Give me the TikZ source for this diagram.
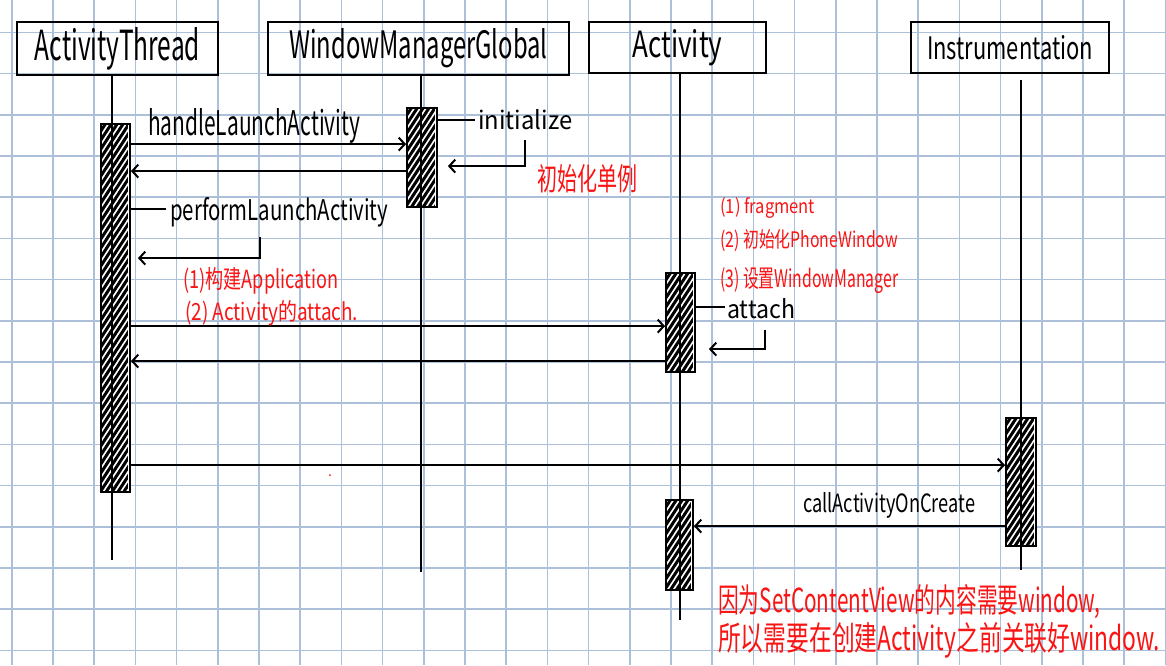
\documentclass[tikz,border=0pt]{standalone}
\usepackage{fontspec}
\usepackage{graphicx}
\setmainfont{Noto Sans CJK SC}
\usetikzlibrary{arrows.meta,calc}
\newcommand\hwtext[3]{\resizebox{#1pt}{#2pt}{#3}}
\definecolor{gridc}{RGB}{172,192,218}
\definecolor{inkred}{RGB}{250,20,20}
\newcommand\hatchin[1]{%
  \begin{scope}
    \clip ($(#1.north west)+(2,2)$) rectangle ($(#1.south east)+(-3,-2)$);
    \foreach \t in {0,9,...,430}{\draw[hatch] ($(#1.north west)+(0,\t)$) -- ++(34,-52);}
  \end{scope}}
\begin{document}
\begin{tikzpicture}[x=1pt,y=-1pt,
  hdr/.style={draw=black, line width=2.2pt, inner sep=0pt, minimum height=53pt},
  actbox/.style={draw=black, fill=white, line width=1.8pt, inner sep=0pt},
  life/.style={line width=2pt, black},
  msg/.style={line width=2pt, -{Straight Barb[length=6pt,width=13pt]}},
  plainln/.style={line width=2pt},
  hatch/.style={line width=3pt, black},
  lbl/.style={inner sep=0pt, anchor=base west, text=black},
  note/.style={inner sep=0pt, anchor=base west, text=inkred},
]
\fill[white] (0,0) rectangle (1166,665);
\useasboundingbox (0,0) rectangle (1166,665);
% grid paper
\foreach \k in {0,...,28} \draw[gridc, line width=1.6pt] ({11.7+41.2*\k},0) -- ({11.7+41.2*\k},665);
\foreach \k in {0,...,15} \draw[gridc, line width=1.6pt] (0,{32.3+41.2*\k}) -- (1166,{32.3+41.2*\k});

% headers
\node[hdr, minimum width=201pt] (at) at (117.5,48.5) {\raisebox{-3pt}{\hwtext{165}{33}{ActivityThread}}};
\node[hdr, minimum width=301pt] (wm) at (418.5,48.5) {\raisebox{-3pt}{\hwtext{258}{30}{WindowManagerGlobal}}};
\node[hdr, minimum width=177pt, minimum height=51pt] (ac) at (677.5,47.5) {\raisebox{-3pt}{\hwtext{90}{28}{Activity}}};
\node[hdr, minimum width=198pt, minimum height=51pt] (in) at (1010,47.5) {\hwtext{166}{24}{Instrumentation}};

% lifeline ends
\coordinate (atL) at (112,560);
\coordinate (wmL) at (421,572);
\coordinate (acL) at (680,620);
\coordinate (inL) at (1021,570);
\coordinate (inT) at (1021,80);

% activation boxes
\node[actbox, minimum width=29pt, minimum height=368pt] (atA) at (115.5,308) {};
\node[actbox, minimum width=30pt, minimum height=99pt] (wmA) at (422,157.5) {};
\node[actbox, minimum width=29pt, minimum height=99pt] (acA) at (680.5,322.5) {};
\node[actbox, minimum width=27pt, minimum height=90pt] (acB) at (679.5,545) {};
\node[actbox, minimum width=30pt, minimum height=128pt] (inA) at (1021,482) {};
\hatchin{atA}
\hatchin{wmA}
\hatchin{acA}
\hatchin{acB}
\hatchin{inA}

% lifelines
\draw[life] (at.south -| atL) -- (atL);
\draw[life] (wm.south -| wmL) -- (wmL);
\draw[life] (ac.south -| acL) -- (acL);
\draw[life] (inT) -- (inL);

% labels
\node[lbl] (lHandle) at (148,135) {\hwtext{212}{27}{handleLaunchActivity}};
\node[lbl] (lInit) at (478,129) {\hwtext{94}{20}{initialize}};
\node[lbl] (lPerf) at (170,220) {\hwtext{218}{23}{performLaunchActivity}};
\node[lbl] (lAttach) at (727,318) {\hwtext{68}{20}{attach}};
\node[lbl] (lCall) at (803,512) {\hwtext{172}{20}{callActivityOnCreate}};

% messages
\coordinate (m1) at ($(atA.north east)+(0,21)$);
\draw[msg] (m1) -- (m1 -| wmA.west);
\coordinate (m2) at ($(wmA.north west)+(0,64)$);
\draw[msg] (m2) -- (m2 -| atA.east);
\coordinate (s1) at ($(wmA.north east)+(0,13)$);
\draw[plainln] (s1) -- ($(s1 -| lInit.west)+(-3,0)$);
\coordinate (s2) at (525,140);
\draw[msg] (s2) |- ($(wmA.north east)+(10,59)$);
\coordinate (p1) at ($(atA.north east)+(0,86)$);
\draw[plainln] (p1) -- ($(p1 -| lPerf.west)+(-4,0)$);
\coordinate (p2) at (260,237);
\draw[msg] (p2) |- ($(atA.north east)+(7,135)$);
\coordinate (m3) at ($(atA.north east)+(0,203)$);
\draw[msg] (m3) -- (m3 -| acA.west);
\coordinate (m4) at ($(acA.north west)+(0,89)$);
\draw[msg] (m4) -- (m4 -| atA.east);
\coordinate (a1) at ($(acA.north east)+(0,35)$);
\draw[plainln] (a1) -- ($(a1 -| lAttach.west)+(-2,0)$);
\coordinate (a2) at (765,330);
\draw[msg] (a2) |- ($(acA.north east)+(13,77)$);
\coordinate (m5) at ($(atA.north east)+(0,342)$);
\draw[msg] (m5) -- (m5 -| inA.west);
\coordinate (m6) at ($(inA.north west)+(0,109)$);
\draw[msg] (m6) -- (m6 -| acB.east);

% red notes
\node[note] (n1) at (537,190) {\hwtext{100}{26}{初始化单例}};
\node[note] (n2) at (183,288) {\hwtext{155}{21}{(1)构建Application}};
\node[note] (n3) at (185,320) {\hwtext{173}{20}{(2) Activity的attach.}};
\node[note] (n4) at (720,213) {\hwtext{95}{16}{(1) fragment}};
\node[note] (n5) at (720,247) {\hwtext{178}{18}{(2) 初始化PhoneWindow}};
\node[note] (n6) at (720,287) {\hwtext{178}{20}{(3) 设置WindowManager}};
\node[note] (n7) at (718,612) {\hwtext{382}{28}{因为SetContentView的内容需要window,}};
\node[note] (n8) at (718,650) {\hwtext{442}{28}{所以需要在创建Activity之前关联好window.}};
\fill[inkred] (330,475) circle (1pt);
\end{tikzpicture}
\end{document}
